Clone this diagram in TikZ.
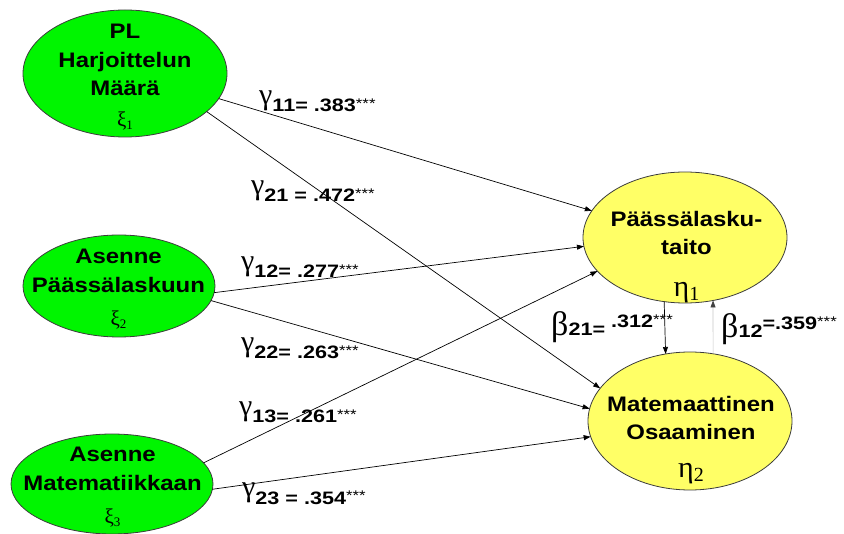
\documentclass[tikz,border=0pt]{standalone}
\usepackage{fontspec}
\setmainfont{Liberation Sans}
\newfontfamily\nodefont{Liberation Sans}[FakeStretch=1.14]
\newfontfamily\labfont{Liberation Sans}[FakeStretch=1.2]
\newfontfamily\grk{Liberation Serif}
\usetikzlibrary{shapes.geometric,arrows.meta}
\definecolor{xigreen}{RGB}{0,245,0}
\definecolor{etayellow}{RGB}{255,255,102}
\definecolor{edgegray}{RGB}{60,60,60}

\newcommand{\xisub}[1]{{\grk\mdseries\fontsize{21}{21}\selectfont ξ\raisebox{-3pt}{\fontsize{13}{13}\selectfont #1}}}
\newcommand{\etasub}[1]{{\grk\mdseries\fontsize{30}{30}\selectfont η\raisebox{-4pt}{\fontsize{20}{20}\selectfont #1}}}
\newcommand{\stars}{\raisebox{3pt}{\labfont\mdseries\fontsize{14}{14}\selectfont ***}}
\newcommand{\glab}[1]{\raisebox{7pt}{\grk\fontsize{30}{30}\selectfont γ}{\labfont\bfseries\fontsize{18}{18}\selectfont #1}\stars}
\newcommand{\blab}[2]{{\grk\fontsize{34}{34}\selectfont β}{\labfont\bfseries\fontsize{18}{18}\selectfont #1}\raisebox{8pt}{\labfont\bfseries\fontsize{18}{18}\selectfont #2\stars}}

\begin{document}
\begin{tikzpicture}[x=1pt,y=-1pt,
  latent/.style={ellipse, draw=edgegray, line width=0.8pt, inner sep=0pt, outer sep=0pt},
  exo/.style={latent, fill=xigreen},
  endo/.style={latent, fill=etayellow},
  ntext/.style={align=center, inner sep=0pt, anchor=north,
    font=\nodefont\bfseries\fontsize{21}{28.5}\selectfont},
  lab/.style={inner sep=0pt, anchor=base west},
  arr/.style={line width=0.7pt, draw=black, -{Triangle[length=7pt,width=5pt]}}]
\useasboundingbox (0,0) rectangle (844,534);

\node[exo, minimum width=204pt, minimum height=127pt] (xi1) at (125,73.5) {};
\node[exo, minimum width=192pt, minimum height=102pt] (xi2) at (119,286) {};
\node[exo, minimum width=202pt, minimum height=100pt] (xi3) at (112,484) {};
\node[endo, minimum width=204pt, minimum height=131pt] (eta1) at (685,237.5) {};
\node[endo, minimum width=204pt, minimum height=138pt] (eta2) at (690,421) {};

\node[ntext] (t1) at (125,24) {PL\\Harjoittelun\\Määrä\\[2.5pt]\xisub{1}};
\node[ntext] (t2) at (118.5,249) {Asenne\\Päässälaskuun\\[5pt]\xisub{2}};
\node[ntext] (t3) at (112.5,447) {Asenne\\Matematiikkaan\\[5pt]\xisub{3}};
\node[ntext] (t4) at (686.5,211) {Päässälasku-\\taito\\[13pt]\etasub{1}};
\node[ntext] (t5) at (691,396) {Matemaattinen\\Osaaminen\\[9pt]\etasub{2}};

\draw[arr] (xi1.-15) -- (eta1.164.7);
\draw[arr] (xi1.-25.7) -- (eta2.160.5);
\draw[arr] (xi2.-4.8) -- (eta1.-175.7);
\draw[arr] (xi2.-9.8) -- (eta2.173.8);
\draw[arr] (xi3.13) -- (eta1.201.4);
\draw[arr] (xi3.-3.4) -- (eta2.189.8);
\draw[arr] (eta1.252.7) -- (eta2.110.5);
\draw[line width=0.7pt, draw=gray!45, -{Triangle[length=7pt,width=5pt,fill=darkgray,color=darkgray]}] (eta2.71.1) -- (eta1.-66);

\node[lab] (g11) at (259,112) {\glab{11= .383}};
\node[lab] (g21) at (251,202) {\glab{21 = .472}};
\node[lab] (g12) at (241,278) {\glab{12= .277}};
\node[lab] (g22) at (241,359) {\glab{22= .263}};
\node[lab] (g13) at (239,423) {\glab{13= .261}};
\node[lab] (g23) at (242,504) {\glab{23 = .354}};
\node[lab] (b21) at (551,336) {\blab{21=}{ .312}};
\node[lab] (b12) at (721,338) {\blab{12}{=.359}};
\end{tikzpicture}
\end{document}
